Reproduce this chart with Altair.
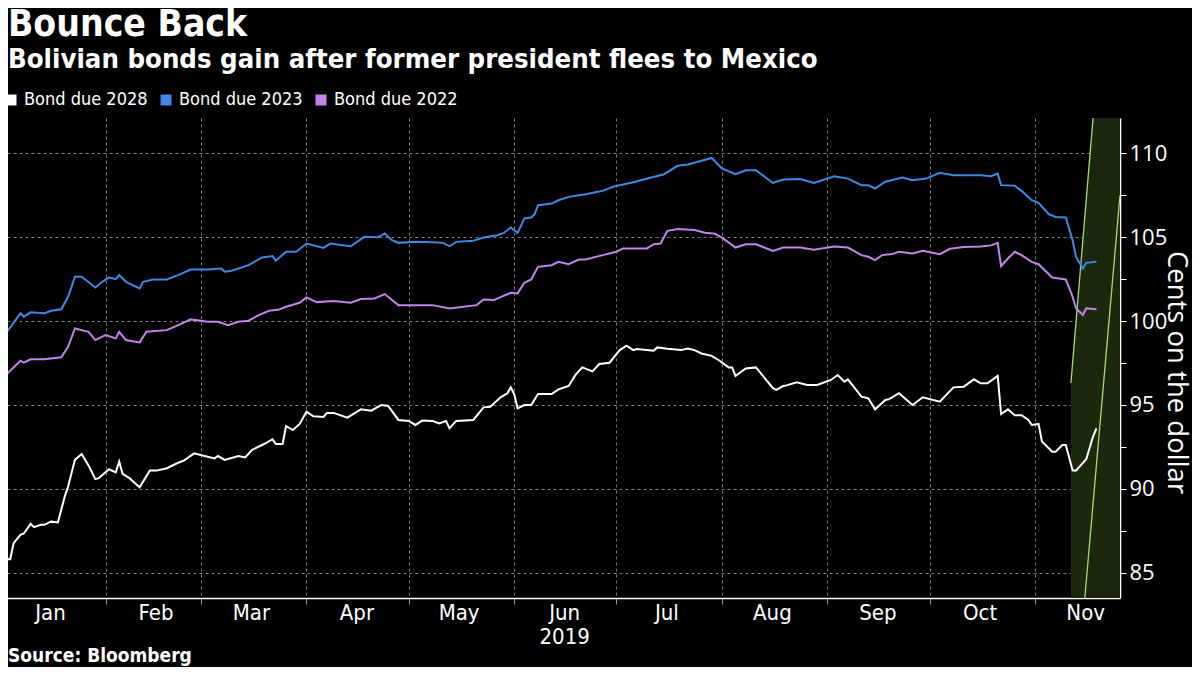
import altair as alt
import pandas as pd

# ---- data ----
dates_2028 = ["01-01","01-04","01-05","01-07","01-08","01-10","01-11","01-13","01-14","01-16","01-18","01-20","01-21","01-23","01-25","01-27","01-29","01-30","02-02","02-04","02-05","02-06","02-08","02-11","02-14","02-16","02-19","02-22","02-24","02-27","03-03","03-05","03-06","03-08","03-12","03-14","03-16","03-20","03-22","03-23","03-25","03-26","03-28","03-30","04-01","04-03","04-06","04-07","04-09","04-13","04-17","04-20","04-23","04-25","04-28","05-01","05-03","05-05","05-08","05-10","05-12","05-13","05-15","05-20","05-23","05-25","05-28","05-30","05-31","06-01","06-02","06-04","06-06","06-08","06-12","06-14","06-17","06-19","06-21","06-24","06-26","06-29","07-02","07-04","07-06","07-07","07-12","07-13","07-16","07-20","07-22","07-24","07-26","07-29","07-31","08-03","08-04","08-05","08-08","08-11","08-16","08-17","08-19","08-20","08-23","08-26","08-29","09-02","09-04","09-06","09-07","09-11","09-13","09-15","09-18","09-19","09-22","09-26","09-29","10-04","10-08","10-11","10-14","10-16","10-18","10-21","10-22","10-24","10-26","10-28","10-30","10-31","11-02","11-03","11-06","11-07","11-09","11-10","11-12","11-13","11-16","11-18","11-19"]
vals_2028 = [85.81,85.81,86.77,87.26,87.34,87.92,87.72,87.86,87.86,88.05,88.0,89.54,90.14,91.73,92.08,91.4,90.58,90.64,91.17,90.98,91.63,90.9,90.64,90.10,91.09,91.09,91.23,91.53,91.69,92.12,91.92,91.82,91.96,91.73,91.96,91.88,92.32,92.72,92.96,92.68,92.68,93.75,93.51,93.87,94.6,94.33,94.29,94.53,94.53,94.25,94.74,94.66,95.0,94.94,94.11,94.05,93.81,94.07,94.05,93.9,94.05,93.61,94.05,94.11,94.86,94.9,95.46,95.7,96.05,95.65,94.8,95.0,95.0,95.65,95.65,95.93,96.13,96.79,97.24,97.0,97.44,97.52,98.27,98.53,98.27,98.33,98.23,98.43,98.35,98.27,98.37,98.27,98.07,97.93,97.68,97.24,97.24,96.73,97.18,97.24,96.0,95.9,96.13,96.17,96.35,96.19,96.19,96.49,96.79,96.39,96.53,95.5,95.4,94.74,95.3,95.34,95.7,95.0,95.46,95.2,96.05,96.09,96.53,96.29,96.29,96.73,94.46,94.74,94.39,94.39,94.11,93.81,93.87,92.82,92.22,92.22,92.62,92.62,91.09,91.09,91.77,93.12,93.61]

dates_2023 = ["01-01","01-02","01-07","01-08","01-10","01-14","01-16","01-19","01-21","01-23","01-25","01-29","01-31","02-02","02-04","02-05","02-07","02-11","02-12","02-15","02-19","02-23","02-26","03-03","03-07","03-08","03-10","03-15","03-19","03-22","03-23","03-26","03-29","04-01","04-06","04-08","04-14","04-18","04-22","04-24","04-26","04-28","05-03","05-08","05-11","05-13","05-15","05-20","05-23","05-27","05-29","05-31","06-02","06-04","06-06","06-07","06-08","06-12","06-14","06-17","06-22","06-27","06-30","07-06","07-15","07-19","07-22","07-29","08-01","08-05","08-08","08-11","08-16","08-19","08-24","08-28","09-03","09-07","09-11","09-13","09-15","09-18","09-23","09-26","09-30","10-04","10-08","10-16","10-19","10-21","10-22","10-26","10-28","10-31","11-02","11-05","11-07","11-10","11-12","11-13","11-15","11-16","11-19"]
vals_2023 = [99.36,99.07,100.46,100.26,100.52,100.46,100.61,100.70,101.45,102.64,102.64,102.0,102.34,102.6,102.5,102.74,102.34,101.94,102.34,102.48,102.48,102.8,103.07,103.07,103.13,102.94,103.0,103.33,103.79,103.87,103.6,104.13,104.13,104.62,104.36,104.62,104.46,105.02,105.0,105.22,104.83,104.66,104.72,104.7,104.66,104.46,104.72,104.78,104.98,105.11,105.25,105.58,105.25,106.11,106.17,106.37,106.9,107.0,107.2,107.4,107.56,107.76,108.0,108.27,108.75,109.25,109.33,109.72,109.09,108.75,108.99,108.99,108.23,108.43,108.47,108.23,108.63,108.49,108.1,108.1,107.9,108.3,108.55,108.39,108.49,108.83,108.69,108.69,108.63,108.79,108.1,108.06,107.76,107.2,107.04,106.37,106.2,106.17,104.82,103.83,103.13,103.47,103.53]

dates_2022 = ["01-01","01-03","01-07","01-08","01-10","01-14","01-19","01-21","01-23","01-27","01-29","02-01","02-04","02-05","02-07","02-11","02-13","02-19","02-23","02-26","03-03","03-06","03-09","03-12","03-15","03-18","03-21","03-24","03-26","03-30","04-01","04-04","04-09","04-14","04-17","04-21","04-24","04-28","05-03","05-08","05-13","05-21","05-23","05-26","05-31","06-02","06-04","06-06","06-08","06-12","06-14","06-17","06-20","06-22","06-27","07-01","07-03","07-10","07-12","07-14","07-16","07-19","07-24","07-27","07-30","08-01","08-05","08-08","08-11","08-16","08-19","08-24","08-28","09-03","09-07","09-11","09-13","09-15","09-17","09-20","09-22","09-26","09-29","10-04","10-07","10-11","10-16","10-19","10-21","10-22","10-24","10-26","10-28","10-31","11-02","11-06","11-08","11-10","11-12","11-13","11-15","11-16","11-19"]
vals_2022 = [96.79,96.84,97.64,97.52,97.72,97.72,97.84,98.47,99.56,99.36,98.87,99.17,98.97,99.36,98.87,98.73,99.36,99.46,99.82,100.10,99.96,99.96,99.76,99.96,100.02,100.36,100.61,100.69,100.85,101.09,101.41,101.13,101.19,101.09,101.31,101.35,101.61,100.95,100.95,100.95,100.75,100.95,101.29,101.25,101.69,101.65,102.28,102.48,103.23,103.33,103.53,103.39,103.67,103.67,103.93,104.13,104.33,104.33,104.58,104.62,105.38,105.48,105.42,105.26,105.2,104.98,104.38,104.58,104.58,104.18,104.38,104.38,104.25,104.45,104.38,103.93,103.83,103.63,103.93,103.99,104.13,104.03,104.19,103.99,104.31,104.41,104.45,104.51,104.66,103.27,103.73,104.13,103.93,103.53,103.39,102.6,102.54,102.48,101.45,100.76,100.36,100.76,100.7]

series_names = ["Bond due 2028", "Bond due 2023", "Bond due 2022"]
series_colors = ["#ffffff", "#3d89e3", "#c483ec"]

# highlight band (annotation) and its two slanted edges
band_dates = ["2019-11-11T12:00", "2019-11-18T00:00", "2019-11-25T22:00"]
band_low = [83.5, 83.5, 83.5]
band_high = [96.3, 112.1, 112.1]
edge_ids = ["a", "a", "b", "b"]
edge_dates = ["2019-11-11T12:00", "2019-11-18T00:00", "2019-11-15T14:00", "2019-11-25T22:00"]
edge_vals = [96.3, 112.1, 83.5, 107.5]

x_domain = ["2019-01-01T00:00", "2019-11-25T22:00"]
y_domain = [83.5, 112.1]
y_ticks = [85, 87.5, 90, 92.5, 95, 97.5, 100, 102.5, 105, 107.5, 110]
month_starts = list(range(1, 12))

rows = []
for name, ds, vs in [(series_names[0], dates_2028, vals_2028),
                     (series_names[1], dates_2023, vals_2023),
                     (series_names[2], dates_2022, vals_2022)]:
    for d, v in zip(ds, vs):
        rows.append({"date": "2019-" + d + "T00:00", "value": v, "series": name})
df = pd.DataFrame(rows)

band_df = pd.DataFrame({"date": band_dates, "lo": band_low, "hi": band_high})
edge_df = pd.DataFrame({"id": edge_ids, "date": edge_dates, "value": edge_vals})

W, H = 1120, 480
FONT_N = "Liberation Sans Narrow, DejaVu Sans Condensed, sans-serif"

xscale = alt.Scale(domain=x_domain, nice=False)
yscale = alt.Scale(domain=y_domain, nice=False, zero=False)

x_axis = alt.Axis(
    values=[alt.DateTime(year=2019, month=m, date=1) for m in month_starts],
    labelExpr="month(datum.value) == 5 ? ['Jun', '2019'] : timeFormat(datum.value, '%b')",
    labelOffset=50, labelOverlap=False, labelBound=False, labelFlush=False,
    labelColor="#ffffff", labelFont=FONT_N, labelFontSize=22, labelPadding=-2,
    labelLineHeight=24,
    domainColor="#ffffff", domainWidth=1.5,
    tickColor="#9a9a9a", tickSize=6,
    grid=True, gridColor="#7a7a7a", gridDash=[3, 3], gridWidth=1,
    title=None,
)
y_axis = alt.Axis(
    orient="right", values=y_ticks,
    labelExpr="datum.value % 5 == 0 ? datum.label : ''",
    labelColor="#ffffff", labelFont="Open Sans", labelFontSize=22, labelPadding=3,
    domainColor="#ffffff", domainWidth=1.5,
    tickColor="#ffffff", tickSize=6,
    grid=True, gridColor="#7a7a7a", gridDash=[3, 3], gridWidth=1,
    gridOpacity={"condition": {"test": "datum.value % 5 == 0", "value": 1}, "value": 0},
    title="Cents on the dollar", titleColor="#ffffff", titleFont="Open Sans",
    titleFontSize=27.5, titleFontWeight="normal", titleAngle=90, titlePadding=-5,
    titleY=254,
)

band = alt.Chart(band_df).mark_area(color="#1c280d", opacity=1, clip=True).encode(
    x=alt.X("date:T", scale=xscale, axis=x_axis),
    y=alt.Y("lo:Q", scale=yscale, axis=y_axis),
    y2="hi:Q",
)
edges = alt.Chart(edge_df).mark_line(color="#a8db6e", strokeWidth=1.3, clip=True).encode(
    x="date:T", y="value:Q", detail="id:N",
)
lines = alt.Chart(df).mark_line(strokeWidth=2, clip=True).encode(
    x="date:T", y="value:Q",
    color=alt.Color("series:N", sort=series_names,
                    scale=alt.Scale(domain=series_names, range=series_colors),
                    legend=alt.Legend(orient="none", legendX=2, legendY=-27,
                                      direction="horizontal", title=None,
                                      symbolType="square", symbolSize=16,
                                      symbolStrokeWidth=7, symbolOpacity=1,
                                      labelColor="#ffffff", labelFont=FONT_N,
                                      labelFontSize=18, labelOffset=4,
                                      columnPadding=2)),
    order=alt.Order("series:N"),
)

one = alt.Data(values=[{}])
title = alt.Chart(one).mark_text(
    text="Bounce Back", align="left", baseline="alphabetic", color="#ffffff",
    font=FONT_N, fontSize=37, fontWeight="bold",
).encode(x=alt.value(8), y=alt.value(-82))
subtitle = alt.Chart(one).mark_text(
    text="Bolivian bonds gain after former president flees to Mexico", align="left",
    baseline="alphabetic", color="#ffffff", font=FONT_N, fontSize=27.3, fontWeight="bold",
).encode(x=alt.value(8), y=alt.value(-50))
source = alt.Chart(one).mark_text(
    text="Source: Bloomberg", align="left", baseline="alphabetic", color="#ffffff",
    font=FONT_N, fontSize=19, fontWeight="bold",
).encode(x=alt.value(8), y=alt.value(544))

# whole page (svg + 8px body margins) kept within 1200x675
chart = alt.layer(band, edges, lines, title, subtitle, source).properties(
    width=W, height=H, background="#000000",
    autosize=alt.AutoSizeParams(type="none"),
    padding={"left": -8, "top": 110, "right": 72, "bottom": 69},
).configure_view(stroke=None)

chart.save("out.html", embed_options={"renderer": "svg", "actions": False})
